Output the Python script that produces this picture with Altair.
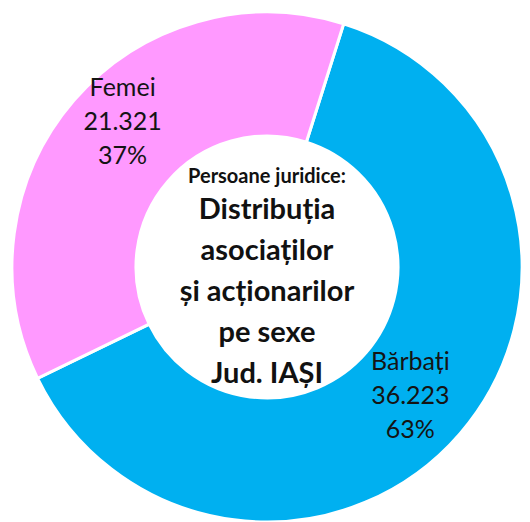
import altair as alt
import pandas as pd
import math

categories = ["Bărbați", "Femei"]
values = [36223, 21321]
value_labels = ["36.223", "21.321"]
percent_labels = ["63%", "37%"]
colors = ["#00B0F0", "#FF99FF"]

title_small = "Persoane juridice:"
title_lines = ["Distribuția", "asociaților", "și acționarilor", "pe sexe", "Jud. IAȘI"]

df = pd.DataFrame({
    "cat": categories,
    "val": values,
    "vlab": value_labels,
    "plab": percent_labels,
    "order": [0, 1],
})

start = math.radians(17.5)
theta_scale = alt.Scale(range=[start, start + 2 * math.pi])

CX, CY = 259, 259
FONT = "Lato"

arcs = alt.Chart(df).mark_arc(
    outerRadius=255, innerRadius=131, stroke="white", strokeWidth=3
).encode(
    theta=alt.Theta("val:Q", stack=True, scale=theta_scale),
    order=alt.Order("order:Q"),
    color=alt.Color("cat:N", scale=alt.Scale(domain=categories, range=colors), legend=None),
    x=alt.value(CX),
    y=alt.value(CY),
)


def label_layer(cat, dx, dy):
    return alt.Chart(df).transform_window(
        cum="sum(val)", sort=[alt.SortField("order")]
    ).transform_calculate(
        mid="datum.cum - datum.val / 2",
        lines="[datum.cat, datum.vlab, datum.plab]",
    ).transform_filter(alt.datum.cat == cat).mark_text(
        radius=200, font=FONT, fontSize=25, lineHeight=34, color="#141414",
        align="center", baseline="middle", dx=dx, dy=dy,
    ).encode(
        theta=alt.Theta("mid:Q", stack=None, scale=theta_scale),
        text="lines:N",
        x=alt.value(CX),
        y=alt.value(CY),
    )


lab_f = label_layer("Femei", 7, -48)
lab_b = label_layer("Bărbați", -8, -36)

center_df = pd.DataFrame({"t": [title_small]})
small = alt.Chart(center_df).mark_text(
    font=FONT, fontSize=20, fontWeight="bold", color="#111111",
    align="center", baseline="middle", dy=-90,
).encode(text="t:N", x=alt.value(CX), y=alt.value(CY))

big_df = pd.DataFrame({"t": [title_lines]})
big = alt.Chart(big_df).mark_text(
    font=FONT, fontSize=29, fontWeight="bold", color="#111111",
    align="center", baseline="middle", lineHeight=41, dy=-57,
).encode(text="t", x=alt.value(CX), y=alt.value(CY))

chart = alt.layer(arcs, lab_f, lab_b, small, big).properties(
    width=514, height=514, padding=0, autosize=alt.AutoSizeParams(type="none")
).configure_view(stroke=None)

chart.save("out.html", embed_options={"renderer": "svg", "actions": False})
